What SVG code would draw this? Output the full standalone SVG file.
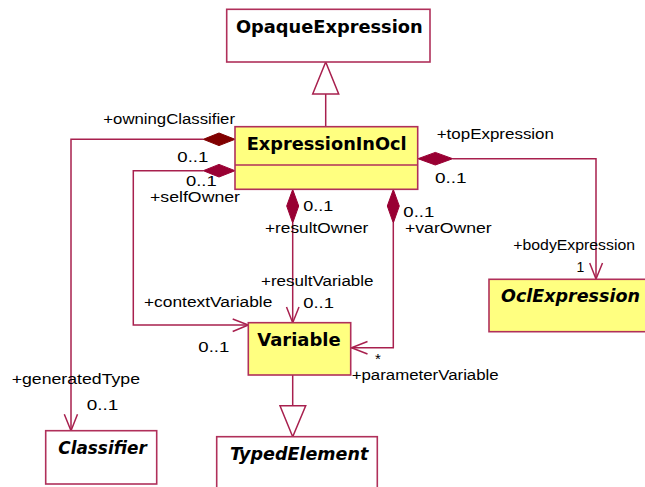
<svg xmlns="http://www.w3.org/2000/svg" width="645" height="487" viewBox="0 0 645 487">
<style>
.box{fill:#ffffff;stroke:#b0305a;stroke-width:1.6}
.ybox{fill:#ffff80;stroke:#b0305a;stroke-width:1.6}
.t{font-family:"DejaVu Sans",Verdana,sans-serif;font-weight:bold;font-size:17px;fill:#000}
.ti{font-family:"DejaVu Sans",Verdana,sans-serif;font-weight:bold;font-style:italic;font-size:17px;fill:#000}
.l{font-family:"Liberation Sans",Arial,sans-serif;font-size:14px;fill:#000}
.c{fill:none;stroke:#a8204e;stroke-width:1.5}
.gen{fill:#ffffff;stroke:#a8204e;stroke-width:1.5}
.dk{fill:#800000;stroke:#800000;stroke-width:1}
.dm{fill:#990033;stroke:#990033;stroke-width:1}
</style>
<rect width="645" height="487" fill="#ffffff"/>
<g id="connectors">
  <!-- ExpressionInOcl -> OpaqueExpression generalization -->
  <line class="c" x1="325.7" y1="127" x2="325.7" y2="94"/>
  <polygon class="gen" points="325.7,62 312.7,94 338.7,94"/>
  <!-- owningClassifier / generatedType -->
  <polyline class="c" points="203.3,139.3 71,139.3 71,430.7"/>
  <polygon class="dk" points="235,139.3 219,133 203.3,139.3 219,145.6"/>
  <polyline class="c" points="64.3,414.3 71,430.7 77.5,414.3"/>
  <!-- selfOwner / contextVariable -->
  <polyline class="c" points="203.3,170.7 133.3,170.7 133.3,325 248.3,325"/>
  <polygon class="dm" points="235,170.7 219,164.4 203.3,170.7 219,177"/>
  <polyline class="c" points="232.7,319 248.3,325 232.7,331.5"/>
  <!-- resultOwner / resultVariable -->
  <line class="c" x1="292.7" y1="223" x2="292.7" y2="322.7"/>
  <polygon class="dm" points="292.7,189.5 286.7,206 292.7,223 298.7,206"/>
  <polyline class="c" points="286.5,307 292.7,322.7 299,307"/>
  <!-- varOwner / parameterVariable -->
  <polyline class="c" points="393.3,223 393.3,347.7 350.7,347.7"/>
  <polygon class="dm" points="393.3,189.5 387.3,206 393.3,223 399.3,206"/>
  <polyline class="c" points="367.5,341.5 351.5,347.7 367.5,354"/>
  <!-- topExpression / bodyExpression -->
  <polyline class="c" points="452.7,158.7 596,158.7 596,279.3"/>
  <polygon class="dm" points="418,158.7 435.3,152.4 452.7,158.7 435.3,165"/>
  <polyline class="c" points="589.7,263 596,279 602.5,263"/>
  <!-- Variable -> TypedElement generalization -->
  <line class="c" x1="292.7" y1="375" x2="292.7" y2="405.7"/>
  <polygon class="gen" points="292.7,436.7 280,405.7 305.7,405.7"/>
</g>
<g id="labels">
  <text class="l" x="103.3" y="124" textLength="131.7" lengthAdjust="spacingAndGlyphs">+owningClassifier</text>
  <text class="l" x="177.3" y="161.7" textLength="31" lengthAdjust="spacingAndGlyphs">0..1</text>
  <text class="l" x="186" y="186" textLength="30.7" lengthAdjust="spacingAndGlyphs">0..1</text>
  <text class="l" x="150" y="201.7" textLength="90" lengthAdjust="spacingAndGlyphs">+selfOwner</text>
  <text class="l" x="436.7" y="139.3" textLength="117.3" lengthAdjust="spacingAndGlyphs">+topExpression</text>
  <text class="l" x="435" y="183.3" textLength="31.7" lengthAdjust="spacingAndGlyphs">0..1</text>
  <text class="l" x="303.3" y="211" textLength="30" lengthAdjust="spacingAndGlyphs">0..1</text>
  <text class="l" x="265" y="233.3" textLength="103.3" lengthAdjust="spacingAndGlyphs">+resultOwner</text>
  <text class="l" x="403.3" y="216.5" textLength="31" lengthAdjust="spacingAndGlyphs">0..1</text>
  <text class="l" x="405" y="233.3" textLength="86.7" lengthAdjust="spacingAndGlyphs">+varOwner</text>
  <text class="l" x="513.3" y="250" textLength="121.7" lengthAdjust="spacingAndGlyphs">+bodyExpression</text>
  <text class="l" x="576.5" y="271.7">1</text>
  <text class="l" x="261" y="286" textLength="112.5" lengthAdjust="spacingAndGlyphs">+resultVariable</text>
  <text class="l" x="303.2" y="308.3" textLength="30.8" lengthAdjust="spacingAndGlyphs">0..1</text>
  <text class="l" x="144" y="307.3" textLength="128.3" lengthAdjust="spacingAndGlyphs">+contextVariable</text>
  <text class="l" x="198.3" y="351.7" textLength="31" lengthAdjust="spacingAndGlyphs">0..1</text>
  <text class="l" x="375" y="364" style="font-size:15px">*</text>
  <text class="l" x="351.7" y="380" textLength="147" lengthAdjust="spacingAndGlyphs">+parameterVariable</text>
  <text class="l" x="11.7" y="384" textLength="128.3" lengthAdjust="spacingAndGlyphs">+generatedType</text>
  <text class="l" x="86.7" y="410" textLength="31.6" lengthAdjust="spacingAndGlyphs">0..1</text>
</g>
<g id="OpaqueExpression">
  <rect class="box" x="226.7" y="9.3" width="203.3" height="52.7"/>
  <text class="t" x="236" y="33.3" textLength="186.7" lengthAdjust="spacingAndGlyphs">OpaqueExpression</text>
</g>
<g id="ExpressionInOcl">
  <rect class="ybox" x="235" y="126.7" width="182.7" height="62.6"/>
  <line class="box" x1="235" y1="165" x2="417.7" y2="165"/>
  <text class="t" x="246.7" y="150" textLength="160" lengthAdjust="spacingAndGlyphs">ExpressionInOcl</text>
</g>
<g id="Variable">
  <rect class="ybox" x="248.3" y="322.7" width="102.4" height="52.3"/>
  <text class="t" x="257.3" y="345.7" textLength="83.4" lengthAdjust="spacingAndGlyphs">Variable</text>
</g>
<g id="OclExpression">
  <rect class="ybox" x="489" y="279.3" width="165" height="52.4"/>
  <text class="ti" x="501" y="301.7" textLength="139" lengthAdjust="spacingAndGlyphs">OclExpression</text>
</g>
<g id="Classifier">
  <rect class="box" x="45.7" y="430.7" width="111" height="53.3"/>
  <text class="ti" x="58.3" y="454" textLength="88.4" lengthAdjust="spacingAndGlyphs">Classifier</text>
</g>
<g id="TypedElement">
  <rect class="box" x="216.7" y="436.7" width="160.6" height="56"/>
  <text class="ti" x="230" y="460" textLength="138.3" lengthAdjust="spacingAndGlyphs">TypedElement</text>
</g>
</svg>
